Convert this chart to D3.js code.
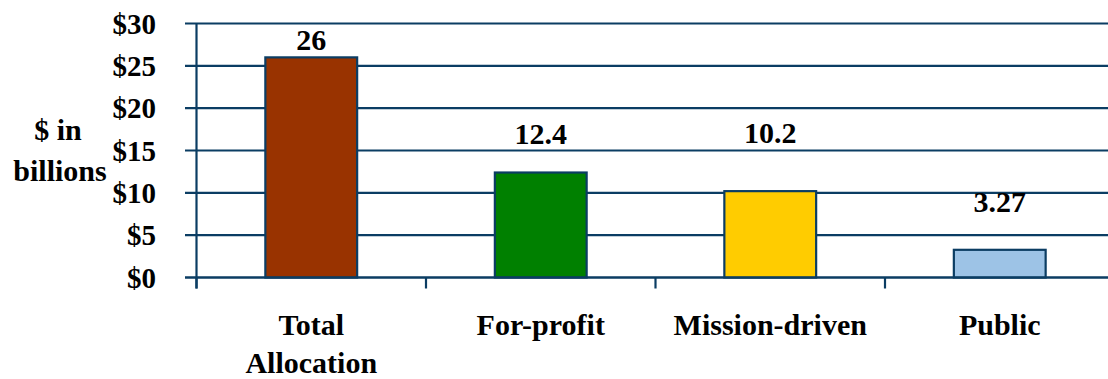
<!DOCTYPE html>
<html>
<head>
<meta charset="utf-8">
<script src="https://cdn.jsdelivr.net/npm/d3@7"></script>
<style>
  html, body { margin: 0; padding: 0; background: #fff; font-family: "Liberation Serif"; }
  svg { display: block; font-family: "Liberation Serif"; }
  text { font-family: "Liberation Serif" !important; font-weight: bold; fill: #000; }
</style>
</head>
<body>
<svg id="chart" width="1108" height="379" font-family="Liberation Serif"></svg>
<script>
// Allocation by sector, $ in billions
const categories = ["Total Allocation", "For-profit", "Mission-driven", "Public"];
const values = [26, 12.4, 10.2, 3.27];
const valueLabels = ["26", "12.4", "10.2", "3.27"];
const yTicks = [0, 5, 10, 15, 20, 25, 30];
const yTickLabels = ["$0", "$5", "$10", "$15", "$20", "$25", "$30"];

// Styling
const barColors = ["#993300", "#008000", "#ffcc00", "#9dc3e6"];
const labelGap = [7, 29, 48, 38]; // px between bar top and its value label
const ink = "#0b3d63";

const svg = d3.select("#chart");
const left = 196.5, step = 229.5;
const x = d3.scaleBand()
  .domain(categories)
  .range([left, left + step * categories.length])
  .paddingInner(0.6)
  .paddingOuter(0.3);
const y = d3.scaleLinear().domain([0, 30]).range([277.5, 23.5]);

// Horizontal gridlines with left tick stubs
svg.append("g").selectAll("line").data(yTicks).join("line")
  .attr("x1", 185).attr("x2", 1108)
  .attr("y1", d => y(d)).attr("y2", d => y(d))
  .attr("stroke", ink).attr("stroke-width", 2.2);

// Vertical axis line
svg.append("line")
  .attr("x1", left).attr("x2", left)
  .attr("y1", y(30)).attr("y2", y(0) + 11)
  .attr("stroke", ink).attr("stroke-width", 2.2);

// Category boundary ticks under the baseline
svg.append("g").selectAll("line").data(d3.range(categories.length + 1)).join("line")
  .attr("x1", i => left + i * step).attr("x2", i => left + i * step)
  .attr("y1", y(0)).attr("y2", y(0) + 11)
  .attr("stroke", ink).attr("stroke-width", 2.2);

// Bars
svg.append("g").selectAll("rect").data(categories).join("rect")
  .attr("x", d => x(d))
  .attr("width", x.bandwidth())
  .attr("y", (d, i) => y(values[i]))
  .attr("height", (d, i) => y(0) - y(values[i]))
  .attr("fill", (d, i) => barColors[i])
  .attr("stroke", ink).attr("stroke-width", 2.2);

// Redraw baseline over bar bottoms
svg.append("line")
  .attr("x1", 185).attr("x2", 1108)
  .attr("y1", y(0)).attr("y2", y(0))
  .attr("stroke", ink).attr("stroke-width", 2.2);

// Y tick labels
svg.selectAll("text.tick").data(yTicks).join("text")
  .attr("class", "tick")
  .style("font-family", '"Liberation Serif"')
  .style("font-size", "29px")
  .attr("x", 156).attr("y", d => y(d) + 10)
  .attr("text-anchor", "end")
  .text((d, i) => yTickLabels[i]);

// Value labels
svg.selectAll("text.value").data(categories).join("text")
  .attr("class", "value")
  .style("font-family", '"Liberation Serif"')
  .style("font-size", "30px")
  .attr("x", d => x(d) + x.bandwidth() / 2)
  .attr("y", (d, i) => y(values[i]) - labelGap[i])
  .attr("text-anchor", "middle")
  .text((d, i) => valueLabels[i]);

// Category labels (first one wraps onto two lines)
const catLines = [];
categories.forEach((c, i) => {
  const words = i === 0 ? c.split(" ") : [c];
  words.forEach((w, k) => catLines.push({ c, w, k }));
});
svg.selectAll("text.cat").data(catLines).join("text")
  .attr("class", "cat")
  .style("font-family", '"Liberation Serif"')
  .style("font-size", "30px")
  .attr("x", d => x(d.c) + x.bandwidth() / 2)
  .attr("y", d => 335 + d.k * 38)
  .attr("text-anchor", "middle")
  .text(d => d.w);

// Y axis title
svg.selectAll("text.ytitle").data([["$ in", 58, 140], ["billions", 60, 181]]).join("text")
  .attr("class", "ytitle")
  .style("font-family", '"Liberation Serif"')
  .style("font-size", "30px")
  .attr("x", d => d[1]).attr("y", d => d[2])
  .attr("text-anchor", "middle")
  .text(d => d[0]);
</script>
</body>
</html>
